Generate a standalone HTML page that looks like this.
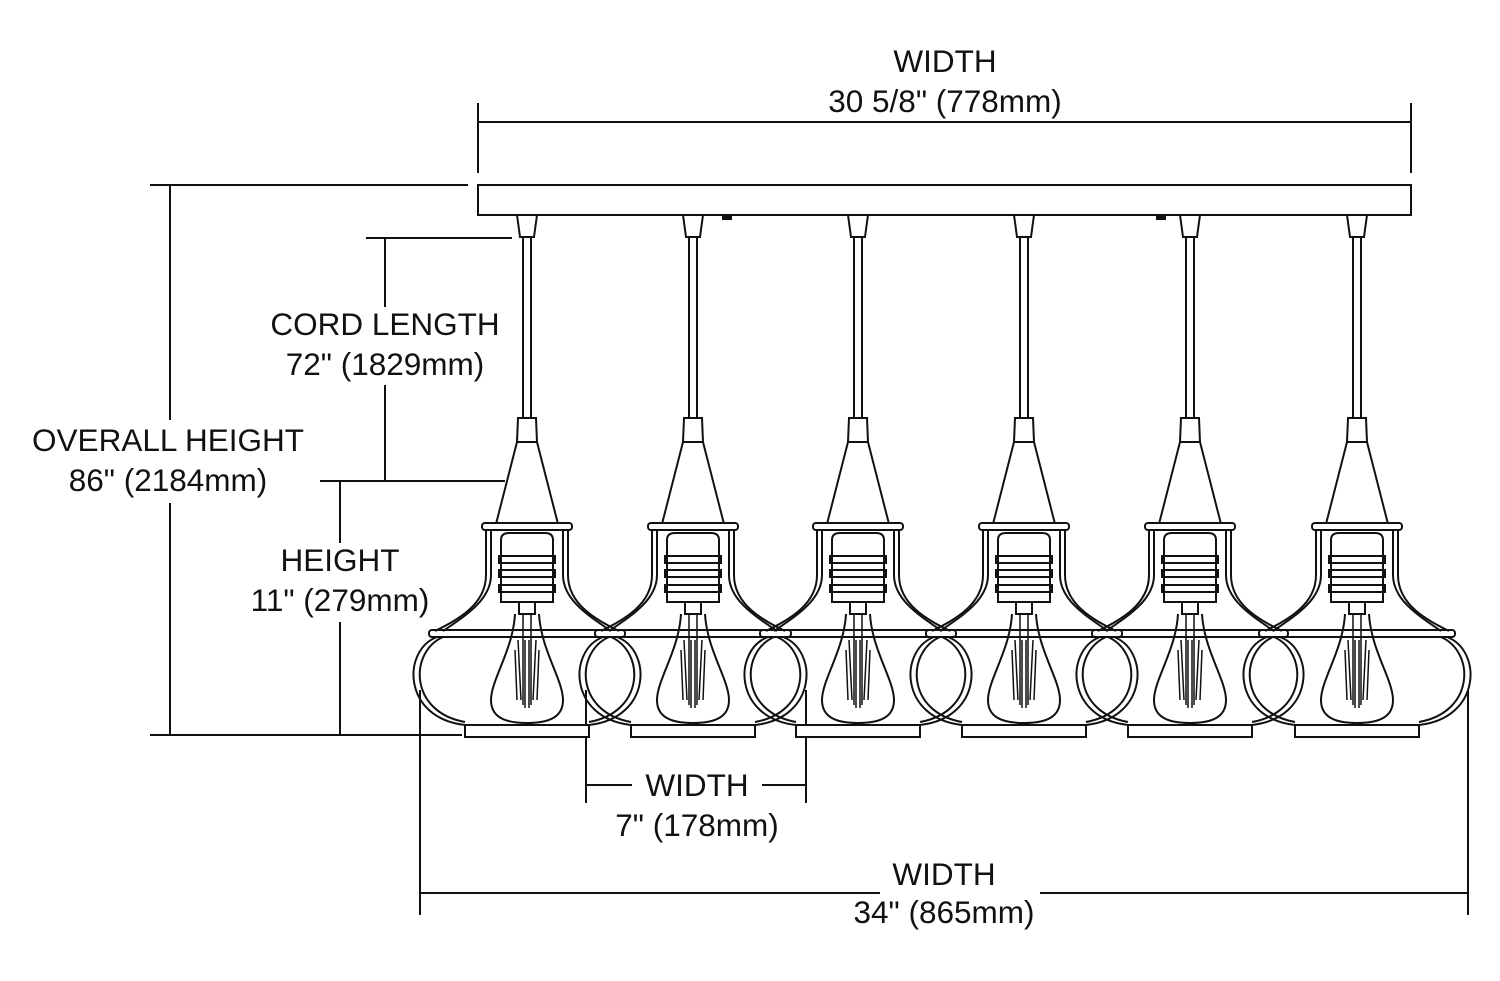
<!DOCTYPE html>
<html><head><meta charset="utf-8"><style>
html,body{margin:0;padding:0;background:#fff;width:1500px;height:981px;overflow:hidden}
svg text{font-family:"Liberation Sans",sans-serif;font-size:31.5px;fill:#111;text-anchor:middle}
</style></head><body>
<svg width="1500" height="981" viewBox="0 0 1500 981" xmlns="http://www.w3.org/2000/svg">
<defs>
<g id="p" fill="none" stroke="#111" stroke-width="2">
  <path d="M-10,215 L10,215 L7,237 L-7,237 Z" fill="#fff"/>
  <line x1="-4" y1="237" x2="-4" y2="418"/><line x1="4" y1="237" x2="4" y2="418"/>
  <path d="M-9,418 L9,418 L10,442 L-10,442 Z" fill="#fff"/>
  <path d="M-10,442 L10,442 L31,524 L-31,524 Z" fill="#fff"/>
  <rect x="-45" y="523" width="90" height="7" rx="3" fill="#fff"/>
  <path d="M-41,530 L-41,575 C-41,605 -70,620 -92,631"/>
  <path d="M-36,530 L-36,575 C-36,600 -62,616 -84,631"/>
  <path d="M41,530 L41,575 C41,605 70,620 92,631"/>
  <path d="M36,530 L36,575 C36,600 62,616 84,631"/>
  <rect x="-98" y="630" width="196" height="7" rx="3" fill="none"/>
  <path d="M-90,637 C-125,650 -125,718 -62,725"/>
  <path d="M-84,637 C-118,652 -118,712 -62,722"/>
  <path d="M90,637 C125,650 125,718 62,725"/>
  <path d="M84,637 C118,652 118,712 62,722"/>
  <rect x="-62" y="725" width="124" height="12" fill="#fff"/>
  <path d="M-26,540 Q-26,533 -18,533 L18,533 Q26,533 26,540 L26,602 L-26,602 Z"/>
  <rect x="-28" y="556" width="56" height="7"/><rect x="-28" y="570" width="56" height="7"/><rect x="-28" y="585" width="56" height="7"/>
  <rect x="-8" y="602" width="16" height="12"/>
  <path d="M-12,614 C-14,650 -36,680 -36,700 C-36,716 -24,723 0,723 C24,723 36,716 36,700 C36,680 14,650 12,614"/>
  <path d="M-4,614 L-4,705 M4,614 L4,705 M-9,640 L-6,700 M9,640 L6,700 M-12,650 L-10,700 M12,650 L10,700 M-2,640 L-2,708 M2,640 L2,708" stroke-width="1.5"/>
</g>
</defs>
<g stroke="#111" stroke-width="2" fill="none">
  <rect x="478" y="185" width="933" height="30" fill="#fff"/>
  <line x1="478" y1="103" x2="478" y2="173"/><line x1="1411" y1="103" x2="1411" y2="173"/>
  <line x1="478" y1="122" x2="1411" y2="122"/>
  <line x1="150" y1="185" x2="468" y2="185"/><line x1="150" y1="735" x2="462" y2="735"/>
  <line x1="170" y1="185" x2="170" y2="420"/><line x1="170" y1="503" x2="170" y2="735"/>
  <line x1="366" y1="238" x2="512" y2="238"/><line x1="320" y1="481" x2="505" y2="481"/>
  <line x1="385" y1="238" x2="385" y2="307"/><line x1="385" y1="385" x2="385" y2="481"/>
  <line x1="340" y1="481" x2="340" y2="543"/><line x1="340" y1="622" x2="340" y2="735"/>
  <line x1="586" y1="690" x2="586" y2="803"/><line x1="806" y1="690" x2="806" y2="803"/>
  <line x1="586" y1="785" x2="632" y2="785"/><line x1="762" y1="785" x2="806" y2="785"/>
  <line x1="420" y1="690" x2="420" y2="915"/><line x1="1468" y1="690" x2="1468" y2="915"/>
  <line x1="420" y1="893" x2="880" y2="893"/><line x1="1040" y1="893" x2="1468" y2="893"/>
</g>
<rect x="722" y="214" width="10" height="6" fill="#111"/>
<rect x="1156" y="214" width="10" height="6" fill="#111"/>
<use href="#p" x="527"/><use href="#p" x="693"/><use href="#p" x="858"/>
<use href="#p" x="1024"/><use href="#p" x="1190"/><use href="#p" x="1357"/>
<text x="945" y="72">WIDTH</text><text x="945" y="112">30 5/8" (778mm)</text>
<text x="385" y="335">CORD LENGTH</text><text x="385" y="375">72" (1829mm)</text>
<text x="168" y="451">OVERALL HEIGHT</text><text x="168" y="491">86" (2184mm)</text>
<text x="340" y="571">HEIGHT</text><text x="340" y="611">11" (279mm)</text>
<text x="697" y="796">WIDTH</text><text x="697" y="836">7" (178mm)</text>
<text x="944" y="885">WIDTH</text><text x="944" y="923">34" (865mm)</text>
</svg>
</body></html>
